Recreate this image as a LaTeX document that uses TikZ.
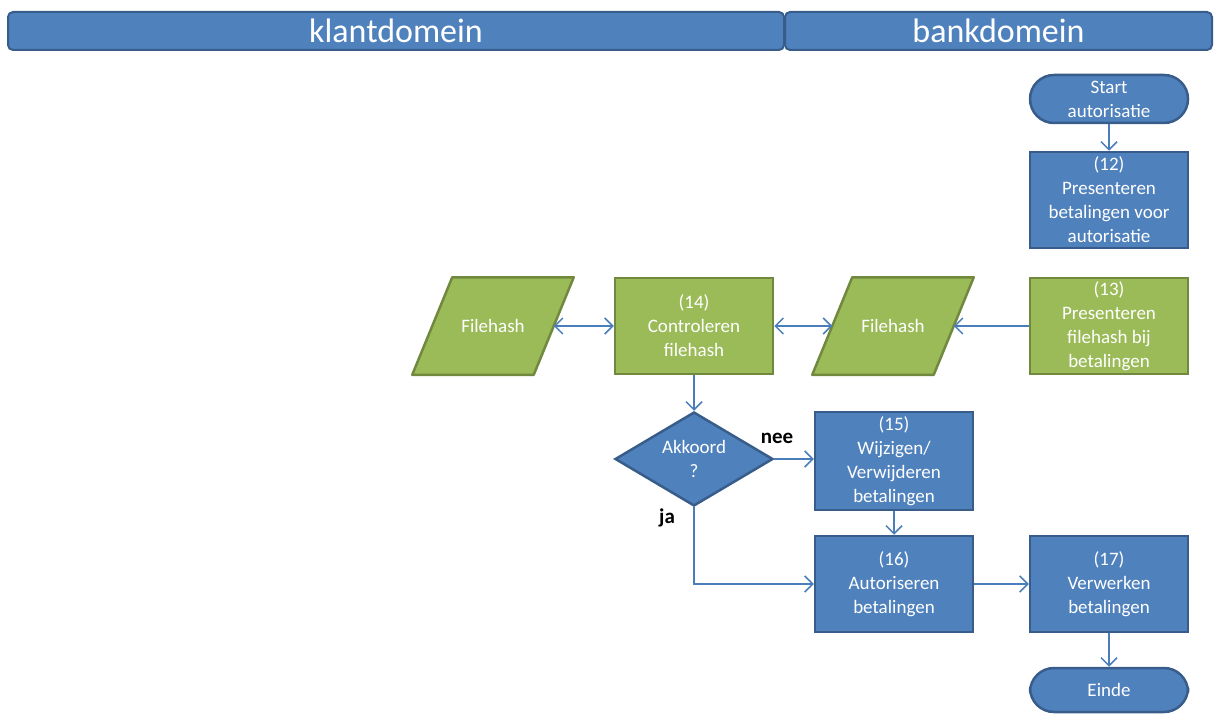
\documentclass[tikz,border=0pt]{standalone}
\usepackage{fontspec}
\setmainfont{Carlito}
\usetikzlibrary{arrows.meta,shapes.geometric,backgrounds}
\definecolor{boxblue}{HTML}{4F81BD}
\definecolor{lineblue}{HTML}{385D8A}
\definecolor{boxgreen}{HTML}{9BBB59}
\definecolor{linegreen}{HTML}{71893F}
\definecolor{arrowblue}{HTML}{4A7EBB}

\begin{document}
\begin{tikzpicture}[x=1pt,y=-1pt, every node/.style={font=\fontsize{19}{24}\selectfont, text=white, align=center},
  blok/.style={draw=lineblue, fill=boxblue, line width=2.5pt, minimum width=158pt, minimum height=96pt, inner sep=0pt},
  groenblok/.style={blok, draw=linegreen, fill=boxgreen},
  eindpunt/.style={blok, rounded corners=24pt, minimum height=48pt},
  invoer/.style={minimum width=120pt, minimum height=96pt, inner sep=0pt},
  vlak/.style={draw=linegreen, fill=boxgreen, line width=2.5pt, line join=round},
  keuze/.style={diamond, aspect=1.68, draw=lineblue, fill=boxblue, line width=2.5pt, minimum width=158pt, minimum height=94pt, inner sep=0pt},
  kop/.style={draw=lineblue, fill=boxblue, line width=2pt, rounded corners=5pt, minimum height=38pt, inner sep=0pt, font=\fontsize{34}{40}\selectfont},
  label/.style={text=black, font=\fontsize{21}{24}\selectfont\bfseries},
  >={Straight Barb[length=8pt,width=16pt]}, every path/.style={color=arrowblue, line width=1.5pt}]
\useasboundingbox (0,0) rectangle (1214,714);
% kopjes
\node[kop, minimum width=776pt] (klant) at (396,31) {klantdomein};
\node[kop, minimum width=427pt] (bank) at (998.5,31) {bankdomein};
% bankdomein
\node[eindpunt] (start) at (1109,99) {Start\\autorisatie};
\node[blok] (p12) at (1109,200) {(12)\\Presenteren\\betalingen voor\\autorisatie};
\node[groenblok] (p13) at (1109,326) {(13)\\Presenteren\\filehash bij\\betalingen};
\node[invoer] (hashR) at (893,326) {Filehash};
\node[groenblok] (p14) at (694,326) {(14)\\Controleren\\filehash};
\node[invoer] (hashL) at (493,326) {Filehash};
\begin{pgfonlayer}{background}
\foreach \h in {hashL,hashR}
  \draw[vlak] ([xshift=-20pt]\h.south west) -- ([xshift=20pt]\h.north west)
    -- ([xshift=20pt]\h.north east) -- ([xshift=-20pt]\h.south east) -- cycle;
\end{pgfonlayer}
\node[keuze] (akkoord) at (694,459) {Akkoord\\?};
\node[blok, minimum height=98pt] (p15) at (894,461) {(15)\\Wijzigen/\\Verwijderen\\betalingen};
\node[blok] (p16) at (894,584) {(16)\\Autoriseren\\betalingen};
\node[blok] (p17) at (1109,584) {(17)\\Verwerken\\betalingen};
\node[eindpunt, minimum height=44pt] (einde) at (1109,690) {Einde};
\node[label] (nee) at (777,438) {nee};
\node[label] (ja) at (667,518) {ja};
% verbindingen
\draw[->] (start)--(p12);
\draw[->] (p13)--(hashR);
\draw[<->] (p14)--(hashR);
\draw[<->] (hashL)--(p14);
\draw[->] (p14)--(akkoord);
\draw[->] (akkoord.east)--(akkoord.east -| p15.west);
\draw[->] (p15)--(p16);
\draw[->] (akkoord.south) |- (p16.west);
\draw[->] (p16)--(p17);
\draw[->] (p17)--(einde);
\end{tikzpicture}
\end{document}
